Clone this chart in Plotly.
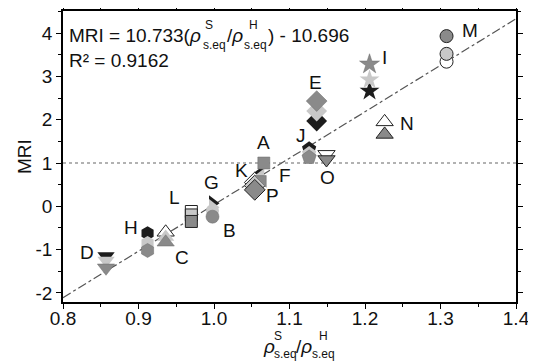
import plotly.graph_objects as go

# ---------------- data ----------------
letters = ["D", "H", "C", "L", "G", "B", "K", "F", "P", "A", "J", "E", "O", "I", "N", "M"]
group_x = [0.857, 0.912, 0.936, 0.970, 0.998, 0.998, 1.062, 1.064, 1.054, 1.066,
           1.126, 1.136, 1.149, 1.206, 1.226, 1.308]
# values per shade: black, light gray, gray, white (None = absent)
vals_black = [-1.15, -0.62, None, None, 0.07, None, 0.78, None, None, None, 1.33, 1.97, None, 2.66, None, None]
vals_light = [-1.25, -0.85, -0.71, -0.20, -0.02, -0.10, 0.70, None, 0.48, None, 1.22, 2.20, None, 2.92, None, 3.52]
vals_gray = [-1.42, -1.02, -0.83, -0.35, None, -0.24, None, 0.62, 0.38, 1.00, 1.13, 2.43, 1.08, 3.28, 1.66, 3.93]
vals_white = [None, None, -0.60, -0.12, None, None, None, None, 0.55, None, None, None, 1.20, None, 1.95, 3.34]
symbols = ["triangle-down", "hexagon", "triangle-up", "square", "triangle-right", "circle",
           "triangle-left", "triangle-ne", "diamond", "square", "pentagon", "diamond",
           "triangle-down", "star", "triangle-up", "circle"]
label_x = [0.832, 0.890, 0.958, 0.948, 0.997, 1.020, 1.037, 1.094, 1.078, 1.066,
           1.115, 1.135, 1.150, 1.226, 1.256, 1.339]
label_y = [-1.07, -0.49, -1.19, 0.20, 0.55, -0.56, 0.83, 0.71, 0.25, 1.48,
           1.64, 2.87, 0.67, 3.44, 1.92, 4.05]

slope = 10.733
intercept = -10.696
fit_x = [0.8, 1.4]
ref_level = 1.0

x_ticks = [0.8, 0.9, 1.0, 1.1, 1.2, 1.3, 1.4]
y_ticks = [-2, -1, 0, 1, 2, 3, 4]

# ---------------- figure ----------------
# page body has an 8px margin: figure is drawn offset by (8, 8) in the window
OFF = 8
W, H = 536 - OFF, 363 - OFF
PL, PR, PT, PB = 63, 516, 11, 302          # plot area in window pixels
ML, MR, MT, MB = PL - OFF, 536 - PR, PT - OFF, 363 - PB
PW, PH = PR - PL, PB - PT


def px(xs):
    return (xs - PL) / PW


def py(ys):
    return (PB - ys) / PH


FONT = "Arial, Liberation Sans, sans-serif"

fig = go.Figure()

# fit line
fig.add_trace(go.Scatter(x=fit_x, y=[slope * v + intercept for v in fit_x], mode="lines",
                         line=dict(color="#555555", width=1.2, dash="dashdot"),
                         showlegend=False, hoverinfo="skip"))
# reference dotted line
fig.add_trace(go.Scatter(x=fit_x, y=[ref_level, ref_level], mode="lines",
                         line=dict(color="#666666", width=1.2, dash="dot"),
                         showlegend=False, hoverinfo="skip"))

shades = [
    (vals_white, "white", "#222222", 1.0),
    (vals_black, "#1c1c1c", "#1c1c1c", 0.0),
    (vals_light, "#c8c8c8", "#c8c8c8", 0.0),
    (vals_gray, "#8a8a8a", "#6a6a6a", 0.5),
]
edged = {"L", "P", "O", "N", "M"}
sizes = {"diamond": 16, "triangle-up": 15, "triangle-down": 15, "star": 15, "hexagon": 14,
         "pentagon": 15, "circle": 13, "square": 12, "triangle-right": 14, "triangle-left": 13,
         "triangle-ne": 13}

for vals, fill, edge, ew in shades:
    for i, v in enumerate(vals):
        if v is None:
            continue
        lc, lw = edge, ew
        if letters[i] in edged:
            lc, lw = "#222222", 1.0
        fig.add_trace(go.Scatter(x=[group_x[i]], y=[v], mode="markers",
                                 marker=dict(symbol=symbols[i], size=sizes[symbols[i]], color=fill,
                                             line=dict(color=lc, width=lw)),
                                 showlegend=False))

annotations = []
for t, lx, ly in zip(letters, label_x, label_y):
    annotations.append(dict(x=lx, y=ly, text=t, showarrow=False, xref="x", yref="y",
                            font=dict(size=19, color="#111111", family=FONT)))

big = dict(size=19, color="#111111", family=FONT)
small = dict(size=12, color="#111111", family=FONT)


def add_text(text, xs, ys, font, anchor="left", angle=0):
    annotations.append(dict(x=px(xs), y=py(ys), xref="paper", yref="paper", text=text,
                            showarrow=False, xanchor=anchor, yanchor="middle", font=font,
                            textangle=angle, borderpad=0))


# equation
add_text("MRI = 10.733(<i>ρ</i>", 68, 35, big)
add_text("S", 204, 25, small)
add_text("s.eq", 202, 45, small)
add_text("/<i>ρ</i>", 226, 35, big)
add_text("H", 248, 25, small)
add_text("s.eq", 243, 45, small)
add_text(") - 10.696", 267, 35, big)
add_text("R² = 0.9162", 68, 61, big)

# x axis title
add_text("<i>ρ</i>", 262, 346, big)
add_text("S", 273, 336, small)
add_text("s.eq", 273, 354, small)
add_text("/<i>ρ</i>", 295, 346, big)
add_text("H", 318, 336, small)
add_text("s.eq", 311, 354, small)

# y axis title
add_text("MRI", 24, 157, big, anchor="center", angle=-90)

axis_common = dict(showgrid=False, zeroline=False, showline=True, linecolor="black",
                   linewidth=1.5, mirror="ticks", ticks="outside", ticklen=5, tickwidth=1.3,
                   tickcolor="black",
                   tickfont=dict(size=19, color="#111111", family=FONT))

fig.update_xaxes(range=[0.8, 1.4], tickvals=x_ticks, ticktext=[f"{v:.1f}" for v in x_ticks],
                 ticklabelstandoff=-7,
                 minor=dict(dtick=0.05, ticks="outside", ticklen=3, tickcolor="black", tickwidth=1),
                 **axis_common)
fig.update_yaxes(range=[-2.21, 4.51], tickvals=y_ticks, ticktext=[str(v) for v in y_ticks],
                 minor=dict(dtick=0.5, tick0=0, ticks="outside", ticklen=3, tickcolor="black", tickwidth=1),
                 **axis_common)

fig.update_layout(width=W, height=H, margin=dict(l=ML, r=MR, t=MT, b=MB, autoexpand=False),
                  plot_bgcolor="white", paper_bgcolor="white", annotations=annotations,
                  font=dict(family=FONT))

fig.write_html("out.html")
